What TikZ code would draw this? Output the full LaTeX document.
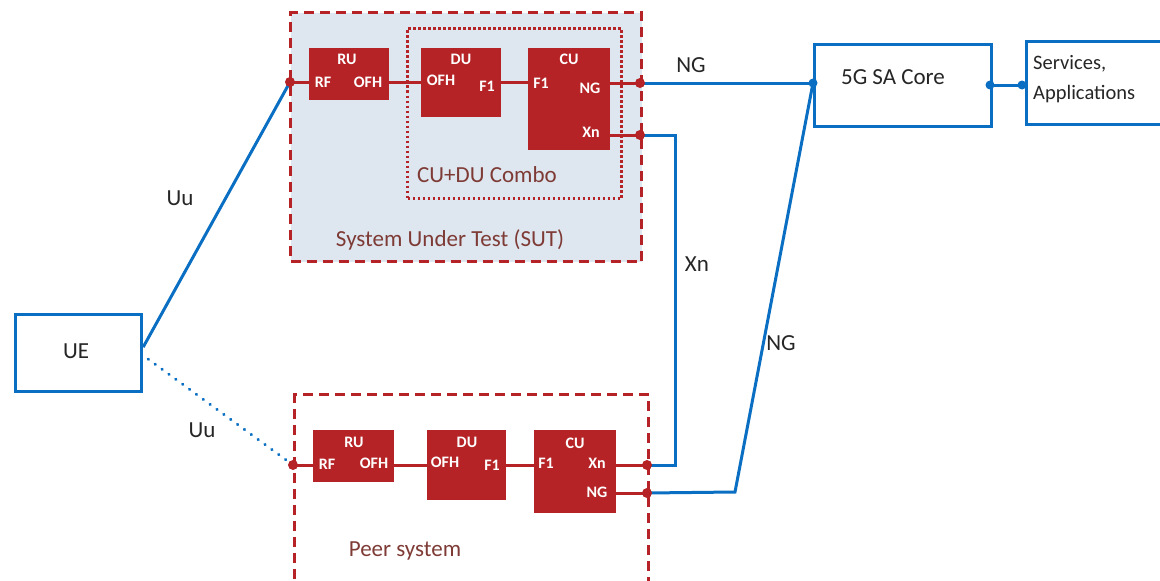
\documentclass[tikz,border=0pt]{standalone}
\usepackage{fontspec}
\setmainfont{Carlito}
\usetikzlibrary{calc}
\definecolor{cred}{HTML}{B52326}
\definecolor{cblue}{HTML}{0A6FC2}
\definecolor{sutfill}{HTML}{DEE6EF}
\definecolor{ctxt}{HTML}{262626}
\definecolor{clab}{HTML}{7E3B36}
\begin{document}
\begin{tikzpicture}[x=1pt,y=-1pt,
  rbox/.style={fill=cred, draw=none, anchor=north west, inner sep=0pt},
  wt/.style={text=white, inner sep=0pt, font=\fontsize{16}{18}\selectfont\bfseries},
  bbox/.style={draw=cblue, line width=3.2pt, fill=white, anchor=north west, inner sep=0pt},
  bl/.style={draw=cblue, line width=3pt},
  rl/.style={draw=cred, line width=3pt},
  rdot/.style={circle, fill=cred, inner sep=0pt, minimum size=10pt},
  bdot/.style={circle, fill=cblue, inner sep=0pt, minimum size=9pt},
  lbl/.style={text=ctxt, inner sep=0pt, font=\fontsize{23}{26}\selectfont},
  grp/.style={draw=cred, line width=3pt, dash pattern=on 10pt off 6pt, anchor=north west, inner sep=0pt},
  glab/.style={text=clab, inner sep=0pt, font=\fontsize{23}{26}\selectfont}
]
\useasboundingbox (0,0) rectangle (1160,581);

% ---------- SUT group ----------
\node[grp, fill=sutfill, minimum width=351pt, minimum height=249pt] (sut) at (289,11) {};
\node[draw=cred, line width=3pt, dash pattern=on 2.6pt off 2.4pt, anchor=north west,
      minimum width=214pt, minimum height=170pt, inner sep=0pt] (combo) at (406,27) {};
\node[glab] (combolbl) at (487,175) {CU+DU Combo};
\node[glab] (sutlbl) at (450,240) {System Under Test (SUT)};

\node[rbox, minimum width=80pt, minimum height=52pt] (ru) at (309,48) {};
\node[rbox, minimum width=80pt, minimum height=69pt] (du) at (421,48) {};
\node[rbox, minimum width=82pt, minimum height=102pt] (cu) at (528,48) {};

\node[wt] (ruT) at (347,59) {RU};
\node[wt] (ruRF) at (323,82) {RF};
\node[wt] (ruOFH) at (368,82) {OFH};
\node[wt] (duT) at (461,59) {DU};
\node[wt] (duOFH) at (441,80) {OFH};
\node[wt] (duF1) at (487,86) {F1};
\node[wt] (cuT) at (569,59) {CU};
\node[wt] (cuF1) at (541,83) {F1};
\node[wt] (cuNG) at (590,88) {NG};
\node[wt] (cuXn) at (591,132) {Xn};

\coordinate (dRF) at (290,82);
\coordinate (dNG) at (640,83);
\coordinate (dXn) at (640,135);
\draw[rl] (dRF) -- (ru.west |- dRF);
\draw[rl] (ru.east |- dRF) -- (du.west |- dRF);
\draw[rl] (du.east |- dRF) -- (cu.west |- dRF);
\draw[rl] (cu.east |- dNG) -- (dNG);
\draw[rl] (cu.east |- dXn) -- (dXn);

% ---------- Peer group ----------
\node[grp, minimum width=354pt, minimum height=190pt] (peer) at (293,393) {};
\node[glab] (peerlbl) at (405,551) {Peer system};

\node[rbox, minimum width=81pt, minimum height=52pt] (pru) at (313,430) {};
\node[rbox, minimum width=79pt, minimum height=70pt] (pdu) at (427,430) {};
\node[rbox, minimum width=82pt, minimum height=83pt] (pcu) at (534,430) {};

\node[wt] (pruT) at (354,442) {RU};
\node[wt] (pruRF) at (327,464) {RF};
\node[wt] (pruOFH) at (374,463) {OFH};
\node[wt] (pduT) at (467,442) {DU};
\node[wt] (pduOFH) at (445,462) {OFH};
\node[wt] (pduF1) at (492,465) {F1};
\node[wt] (pcuT) at (575,443) {CU};
\node[wt] (pcuF1) at (546,463) {F1};
\node[wt] (pcuXn) at (597,463) {Xn};
\node[wt] (pcuNG) at (597,492) {NG};

\coordinate (pRF) at (293,465);
\coordinate (pXn) at (647,465);
\coordinate (pNG) at (647,493);
\draw[rl] (pRF) -- (pru.west |- pRF);
\draw[rl] (pru.east |- pRF) -- (pdu.west |- pRF);
\draw[rl] (pdu.east |- pRF) -- (pcu.west |- pRF);
\draw[rl] (pcu.east |- pXn) -- (pXn);
\draw[rl] (pcu.east |- pNG) -- (pNG);

% ---------- blue boxes ----------
\node[bbox, minimum width=126pt, minimum height=77pt] (ue) at (14,313) {};
\node[lbl] (uelbl) at (76,351) {UE};
\node[bbox, minimum width=177pt, minimum height=82pt] (core) at (813,43) {};
\node[lbl] (corelbl) at (893,77) {5G SA Core};
\node[bbox, minimum width=140pt, minimum height=83pt] (svc) at (1025,40) {};
\node[text=ctxt, inner sep=0pt, anchor=west, align=left,
      font=\fontsize{20.5}{30}\selectfont] (svclbl) at (1033,79) {Services,\\Applications};

\coordinate (cIn) at (813,83);
\coordinate (cOut) at (990,85);
\coordinate (sIn) at (1022,85);

% ---------- blue connectors ----------
\draw[bl] (ue.east) ++(0,-6) coordinate (ueA) -- (dRF);
\draw[cblue, line width=3pt, line cap=round, dash pattern=on 0.5pt off 8pt] ($(ue.east)+(5,6)$) coordinate (ueB) -- (pRF);
\draw[bl] (dNG) -- (cIn);
\draw[bl] (dXn) -- (675,135) -- (675,465) -- (pXn);
\draw[bl] (pNG) -- (735,492) -- (cIn);
\draw[bl] (cOut) -- (sIn);

% ---------- dots ----------
\node[rdot] (dotRF) at (dRF) {};
\node[rdot] (dotNG) at (dNG) {};
\node[rdot] (dotXn) at (dXn) {};
\node[rdot] (dotpRF) at (pRF) {};
\node[rdot] (dotpXn) at (pXn) {};
\node[rdot] (dotpNG) at (pNG) {};
\node[bdot] (dotcIn) at (cIn) {};
\node[bdot] (dotcOut) at (cOut) {};
\node[bdot] (dotsIn) at (sIn) {};

% ---------- connector labels ----------
\node[lbl] (lNG1) at (691,65) {NG};
\node[lbl] (lXn) at (697,264) {Xn};
\node[lbl] (lNG2) at (781,343) {NG};
\node[lbl] (lUu1) at (180,198) {Uu};
\node[lbl] (lUu2) at (202,430) {Uu};
\end{tikzpicture}
\end{document}
